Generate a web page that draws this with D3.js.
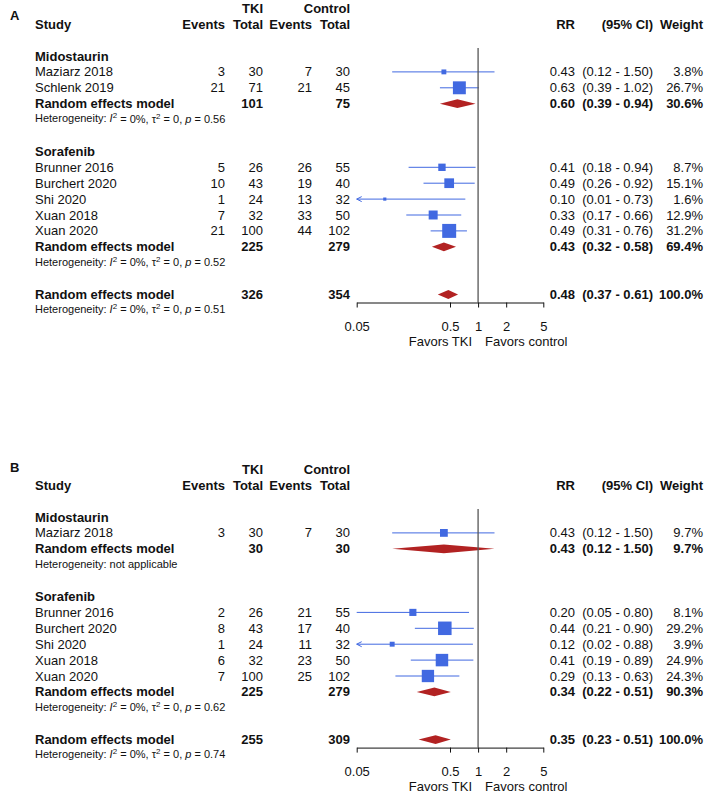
<!DOCTYPE html>
<html><head><meta charset="utf-8">
<script src="https://cdn.jsdelivr.net/npm/d3@7"></script>
<style>
body{margin:0;background:#fff}
text{font-family:"Liberation Sans",Arial,Helvetica,sans-serif;fill:#111}
</style>
</head><body>
<svg id="c" width="708" height="795"></svg>
<script>
// ---------- DATA ----------
const groupNames = ["Midostaurin", "Sorafenib"];

// Panel A
const studyA   = ["Maziarz 2018","Schlenk 2019","Brunner 2016","Burchert 2020","Shi 2020","Xuan 2018","Xuan 2020"];
const groupA   = [0,0,1,1,1,1,1];
const evTkiA   = [3,21,5,10,1,7,21];
const totTkiA  = [30,71,26,43,24,32,100];
const evCtlA   = [7,21,26,19,13,33,44];
const totCtlA  = [30,45,55,40,32,50,102];
const rrA      = [0.43,0.63,0.41,0.49,0.10,0.33,0.49];
const loA      = [0.12,0.39,0.18,0.26,0.01,0.17,0.31];
const hiA      = [1.50,1.02,0.94,0.92,0.73,0.66,0.76];
const wA       = [3.8,26.7,8.7,15.1,1.6,12.9,31.2];
const subTkiA  = [101,225];
const subCtlA  = [75,279];
const subRrA   = [0.60,0.43];
const subLoA   = [0.39,0.32];
const subHiA   = [0.94,0.58];
const subWA    = [30.6,69.4];
const subPA    = ["0.56","0.52"];
const allA     = {tki:326, ctl:354, rr:0.48, lo:0.37, hi:0.61, w:100.0, p:"0.51"};

// Panel B
const studyB   = ["Maziarz 2018","Brunner 2016","Burchert 2020","Shi 2020","Xuan 2018","Xuan 2020"];
const groupB   = [0,1,1,1,1,1];
const evTkiB   = [3,2,8,1,6,7];
const totTkiB  = [30,26,43,24,32,100];
const evCtlB   = [7,21,17,11,23,25];
const totCtlB  = [30,55,40,32,50,102];
const rrB      = [0.43,0.20,0.44,0.12,0.41,0.29];
const loB      = [0.12,0.05,0.21,0.02,0.19,0.13];
const hiB      = [1.50,0.80,0.90,0.88,0.89,0.63];
const wB       = [9.7,8.1,29.2,3.9,24.9,24.3];
const subTkiB  = [30,225];
const subCtlB  = [30,279];
const subRrB   = [0.43,0.34];
const subLoB   = [0.12,0.22];
const subHiB   = [1.50,0.51];
const subWB    = [9.7,90.3];
const subPB    = [null,"0.62"];
const allB     = {tki:255, ctl:309, rr:0.35, lo:0.23, hi:0.51, w:100.0, p:"0.74"};

const tickVals = [0.05, 0.5, 1, 2, 5];

// ---------- DRAW ----------
const svg = d3.select("#c");
svg.append("rect").attr("width",708).attr("height",795).attr("fill","#fff");

const x = d3.scaleLog().domain([0.05,5]).range([356.7,543.3]);
const ROW = 15.9;
const FS = 13;
const HFS = 11;
const blue = "#4169E1", red = "#B22222";
const col = {study:35, evT:225, totT:263, evC:312, totC:350, rr:575, ci:653, w:703};
const f2 = d3.format(".2f"), f1 = d3.format(".1f");

function txt(g, s, xx, yy, anchor, bold, size){
  return g.append("text").attr("x",xx).attr("y",yy).attr("dy","0.35em")
    .attr("text-anchor",anchor||"start").attr("font-size",size||FS)
    .attr("font-weight",bold?"bold":"normal").text(s);
}

function het(g, p, yy){
  const t = g.append("text").attr("x",col.study).attr("y",yy).attr("dy","0.35em").attr("font-size",HFS);
  if (p === null){ t.text("Heterogeneity: not applicable"); return; }
  t.append("tspan").text("Heterogeneity: ");
  t.append("tspan").attr("font-style","italic").text("I");
  t.append("tspan").attr("font-size",8).attr("dy","-0.5em").text("2");
  t.append("tspan").attr("dy","0.37em").text(" = 0%, \u03C4");
  t.append("tspan").attr("font-size",8).attr("dy","-0.5em").text("2");
  t.append("tspan").attr("dy","0.37em").text(" = 0, ");
  t.append("tspan").attr("font-style","italic").text("p");
  t.append("tspan").text(" = " + p);
}

function diamond(g, rr, lo, hi, yy){
  const h = 4.4;
  g.append("path").attr("fill",red).attr("stroke","none")
    .attr("d",`M${x(lo)},${yy}L${x(rr)},${yy-h}L${x(hi)},${yy}L${x(rr)},${yy+h}Z`);
}

function panel(cfg){
  const g = svg.append("g");
  const y = d3.scaleLinear().domain([0,1]).range([cfg.top, cfg.top+ROW]);
  txt(g, cfg.label, 10, cfg.labelY, "start", true, 13);
  txt(g,"TKI",col.totT,y(-3),"end",true);
  txt(g,"Control",col.totC,y(-3),"end",true);
  txt(g,"Study",col.study,y(-2),"start",true);
  txt(g,"Events",col.evT,y(-2),"end",true);
  txt(g,"Total",col.totT,y(-2),"end",true);
  txt(g,"Events",col.evC,y(-2),"end",true);
  txt(g,"Total",col.totC,y(-2),"end",true);
  txt(g,"RR",col.rr,y(-2),"end",true);
  txt(g,"(95% CI)",col.ci,y(-2),"end",true);
  txt(g,"Weight",col.w,y(-2),"end",true);

  let i = 0;
  groupNames.forEach((gn, gi) => {
    txt(g, gn, col.study, y(i), "start", true);
    i++;
    cfg.study.forEach((s, k) => {
      if (cfg.group[k] !== gi) return;
      const yy = y(i);
      txt(g, s, col.study, yy);
      txt(g, cfg.evT[k], col.evT, yy, "end");
      txt(g, cfg.totT[k], col.totT, yy, "end");
      txt(g, cfg.evC[k], col.evC, yy, "end");
      txt(g, cfg.totC[k], col.totC, yy, "end");
      txt(g, f2(cfg.rr[k]), col.rr, yy, "end");
      txt(g, `(${f2(cfg.lo[k])} - ${f2(cfg.hi[k])})`, col.ci, yy, "end");
      txt(g, f1(cfg.w[k]) + "%", col.w, yy, "end");
      const lo = Math.max(cfg.lo[k], 0.05), hi = Math.min(cfg.hi[k], 5);
      g.append("line").attr("x1",x(lo)).attr("x2",x(hi)).attr("y1",yy).attr("y2",yy)
        .attr("stroke",blue).attr("stroke-width",1);
      if (cfg.lo[k] < 0.05){
        const ax = x(0.05);
        g.append("path").attr("fill","none").attr("stroke",blue).attr("stroke-width",1)
          .attr("d",`M${ax+5},${yy-2.5}L${ax},${yy}L${ax+5},${yy+2.5}`);
      }
      const side = 2.5*Math.sqrt(cfg.w[k]);
      g.append("rect").attr("x",x(cfg.rr[k])-side/2).attr("y",yy-side/2)
        .attr("width",side).attr("height",side).attr("fill",blue);
      i++;
    });
    const yy = y(i);
    txt(g,"Random effects model",col.study,yy,"start",true);
    txt(g,cfg.subT[gi],col.totT,yy,"end",true);
    txt(g,cfg.subC[gi],col.totC,yy,"end",true);
    txt(g,f2(cfg.subRr[gi]),col.rr,yy,"end",true);
    txt(g,`(${f2(cfg.subLo[gi])} - ${f2(cfg.subHi[gi])})`,col.ci,yy,"end",true);
    txt(g,f1(cfg.subW[gi])+"%",col.w,yy,"end",true);
    diamond(g, cfg.subRr[gi], cfg.subLo[gi], cfg.subHi[gi], yy);
    i++;
    het(g, cfg.subP[gi], y(i)-1);
    i += 2;
  });
  const yo = y(i);
  const a = cfg.all;
  txt(g,"Random effects model",col.study,yo,"start",true);
  txt(g,a.tki,col.totT,yo,"end",true);
  txt(g,a.ctl,col.totC,yo,"end",true);
  txt(g,f2(a.rr),col.rr,yo,"end",true);
  txt(g,`(${f2(a.lo)} - ${f2(a.hi)})`,col.ci,yo,"end",true);
  txt(g,f1(a.w)+"%",col.w,yo,"end",true);
  diamond(g, a.rr, a.lo, a.hi, yo);
  het(g, a.p, y(i+1)-1);

  const axisY = yo + 8;
  g.append("line").attr("x1",x(1)).attr("x2",x(1)).attr("y1",y(0)-8).attr("y2",axisY)
    .attr("stroke","#555").attr("stroke-width",1.3);
  const ax = g.append("g").attr("transform",`translate(0,${axisY})`)
    .call(d3.axisBottom(x).tickValues(tickVals).tickFormat(d => String(d))
      .tickSize(5).tickSizeOuter(0).tickPadding(14));
  ax.selectAll("text").attr("font-size",FS).attr("font-family","Liberation Sans, Arial, sans-serif").attr("fill","#111");
  ax.selectAll("line,path").attr("stroke","#111");
  txt(g,"Favors TKI",x(1)-6,axisY+39,"end");
  txt(g,"Favors control",x(1)+7,axisY+39,"start");
}

panel({label:"A", labelY:15, top:56,
  study:studyA, group:groupA, evT:evTkiA, totT:totTkiA, evC:evCtlA, totC:totCtlA,
  rr:rrA, lo:loA, hi:hiA, w:wA,
  subT:subTkiA, subC:subCtlA, subRr:subRrA, subLo:subLoA, subHi:subHiA, subW:subWA, subP:subPA, all:allA});

panel({label:"B", labelY:467, top:517,
  study:studyB, group:groupB, evT:evTkiB, totT:totTkiB, evC:evCtlB, totC:totCtlB,
  rr:rrB, lo:loB, hi:hiB, w:wB,
  subT:subTkiB, subC:subCtlB, subRr:subRrB, subLo:subLoB, subHi:subHiB, subW:subWB, subP:subPB, all:allB});
</script>
</body></html>
